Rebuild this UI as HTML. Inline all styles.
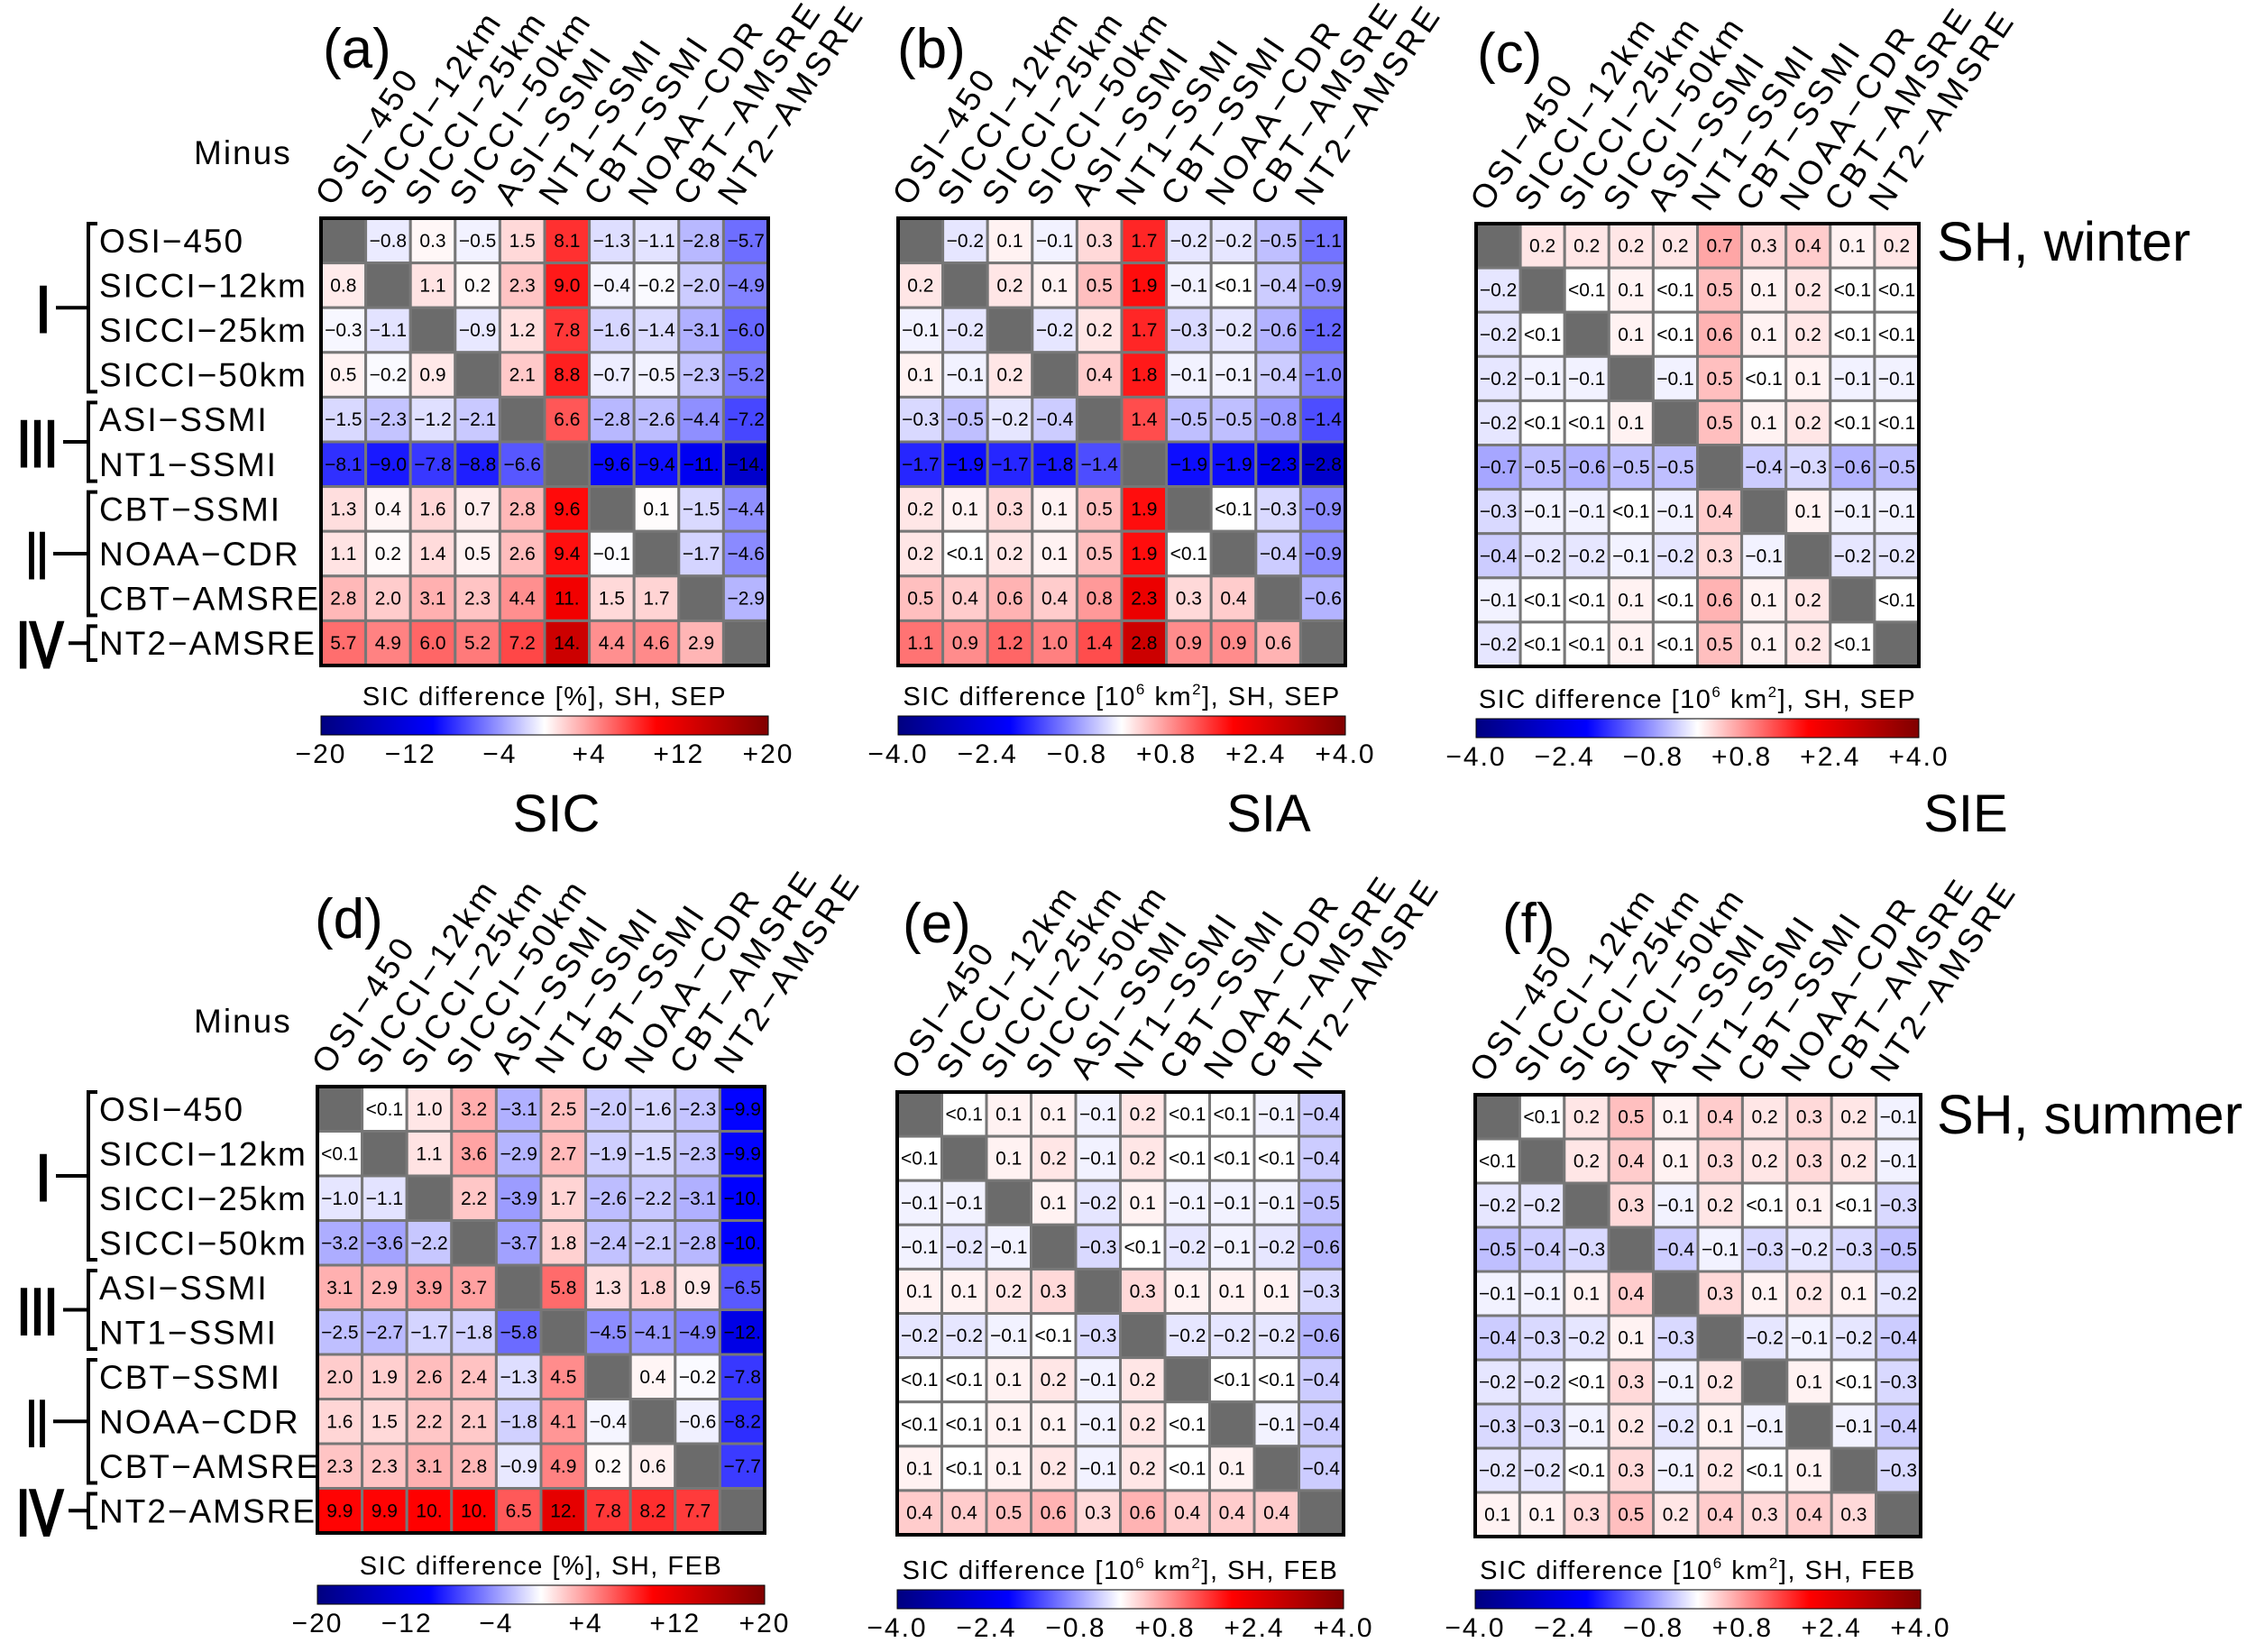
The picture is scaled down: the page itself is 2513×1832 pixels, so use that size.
<!DOCTYPE html>
<html><head><meta charset="utf-8"><style>
html,body{margin:0;padding:0;background:#fff}
svg{display:block}
text{font-family:"Liberation Sans",sans-serif}
</style></head><body>
<svg id="fig" xmlns="http://www.w3.org/2000/svg" width="2513" height="1832" viewBox="0 0 2513 1832">
<defs>
<linearGradient id="cmap" x1="0" x2="1" y1="0" y2="0">
<stop offset="0" stop-color="#000080"/><stop offset="0.25" stop-color="#0000ff"/><stop offset="0.5" stop-color="#ffffff"/><stop offset="0.75" stop-color="#ff0000"/><stop offset="1" stop-color="#800000"/>
</linearGradient>
</defs>
</svg>
<script>
const products = ["OSI-450","SICCI-12km","SICCI-25km","SICCI-50km","ASI-SSMI","NT1-SSMI","CBT-SSMI","NOAA-CDR","CBT-AMSRE","NT2-AMSRE"];
const sicTicks = ["-20","-12","-4","+4","+12","+20"];
const siaTicks = ["-4.0","-2.4","-0.8","+0.8","+2.4","+4.0"];
const valuesA = [
["X","-0.8","0.3","-0.5","1.5","8.1","-1.3","-1.1","-2.8","-5.7"],
["0.8","X","1.1","0.2","2.3","9.0","-0.4","-0.2","-2.0","-4.9"],
["-0.3","-1.1","X","-0.9","1.2","7.8","-1.6","-1.4","-3.1","-6.0"],
["0.5","-0.2","0.9","X","2.1","8.8","-0.7","-0.5","-2.3","-5.2"],
["-1.5","-2.3","-1.2","-2.1","X","6.6","-2.8","-2.6","-4.4","-7.2"],
["-8.1","-9.0","-7.8","-8.8","-6.6","X","-9.6","-9.4","-11.","-14."],
["1.3","0.4","1.6","0.7","2.8","9.6","X","0.1","-1.5","-4.4"],
["1.1","0.2","1.4","0.5","2.6","9.4","-0.1","X","-1.7","-4.6"],
["2.8","2.0","3.1","2.3","4.4","11.","1.5","1.7","X","-2.9"],
["5.7","4.9","6.0","5.2","7.2","14.","4.4","4.6","2.9","X"]];
const valuesB = [
["X","-0.2","0.1","-0.1","0.3","1.7","-0.2","-0.2","-0.5","-1.1"],
["0.2","X","0.2","0.1","0.5","1.9","-0.1","<0.1","-0.4","-0.9"],
["-0.1","-0.2","X","-0.2","0.2","1.7","-0.3","-0.2","-0.6","-1.2"],
["0.1","-0.1","0.2","X","0.4","1.8","-0.1","-0.1","-0.4","-1.0"],
["-0.3","-0.5","-0.2","-0.4","X","1.4","-0.5","-0.5","-0.8","-1.4"],
["-1.7","-1.9","-1.7","-1.8","-1.4","X","-1.9","-1.9","-2.3","-2.8"],
["0.2","0.1","0.3","0.1","0.5","1.9","X","<0.1","-0.3","-0.9"],
["0.2","<0.1","0.2","0.1","0.5","1.9","<0.1","X","-0.4","-0.9"],
["0.5","0.4","0.6","0.4","0.8","2.3","0.3","0.4","X","-0.6"],
["1.1","0.9","1.2","1.0","1.4","2.8","0.9","0.9","0.6","X"]];
const valuesC = [
["X","0.2","0.2","0.2","0.2","0.7","0.3","0.4","0.1","0.2"],
["-0.2","X","<0.1","0.1","<0.1","0.5","0.1","0.2","<0.1","<0.1"],
["-0.2","<0.1","X","0.1","<0.1","0.6","0.1","0.2","<0.1","<0.1"],
["-0.2","-0.1","-0.1","X","-0.1","0.5","<0.1","0.1","-0.1","-0.1"],
["-0.2","<0.1","<0.1","0.1","X","0.5","0.1","0.2","<0.1","<0.1"],
["-0.7","-0.5","-0.6","-0.5","-0.5","X","-0.4","-0.3","-0.6","-0.5"],
["-0.3","-0.1","-0.1","<0.1","-0.1","0.4","X","0.1","-0.1","-0.1"],
["-0.4","-0.2","-0.2","-0.1","-0.2","0.3","-0.1","X","-0.2","-0.2"],
["-0.1","<0.1","<0.1","0.1","<0.1","0.6","0.1","0.2","X","<0.1"],
["-0.2","<0.1","<0.1","0.1","<0.1","0.5","0.1","0.2","<0.1","X"]];
const valuesD = [
["X","<0.1","1.0","3.2","-3.1","2.5","-2.0","-1.6","-2.3","-9.9"],
["<0.1","X","1.1","3.6","-2.9","2.7","-1.9","-1.5","-2.3","-9.9"],
["-1.0","-1.1","X","2.2","-3.9","1.7","-2.6","-2.2","-3.1","-10."],
["-3.2","-3.6","-2.2","X","-3.7","1.8","-2.4","-2.1","-2.8","-10."],
["3.1","2.9","3.9","3.7","X","5.8","1.3","1.8","0.9","-6.5"],
["-2.5","-2.7","-1.7","-1.8","-5.8","X","-4.5","-4.1","-4.9","-12."],
["2.0","1.9","2.6","2.4","-1.3","4.5","X","0.4","-0.2","-7.8"],
["1.6","1.5","2.2","2.1","-1.8","4.1","-0.4","X","-0.6","-8.2"],
["2.3","2.3","3.1","2.8","-0.9","4.9","0.2","0.6","X","-7.7"],
["9.9","9.9","10.","10.","6.5","12.","7.8","8.2","7.7","X"]];
const valuesE = [
["X","<0.1","0.1","0.1","-0.1","0.2","<0.1","<0.1","-0.1","-0.4"],
["<0.1","X","0.1","0.2","-0.1","0.2","<0.1","<0.1","<0.1","-0.4"],
["-0.1","-0.1","X","0.1","-0.2","0.1","-0.1","-0.1","-0.1","-0.5"],
["-0.1","-0.2","-0.1","X","-0.3","<0.1","-0.2","-0.1","-0.2","-0.6"],
["0.1","0.1","0.2","0.3","X","0.3","0.1","0.1","0.1","-0.3"],
["-0.2","-0.2","-0.1","<0.1","-0.3","X","-0.2","-0.2","-0.2","-0.6"],
["<0.1","<0.1","0.1","0.2","-0.1","0.2","X","<0.1","<0.1","-0.4"],
["<0.1","<0.1","0.1","0.1","-0.1","0.2","<0.1","X","-0.1","-0.4"],
["0.1","<0.1","0.1","0.2","-0.1","0.2","<0.1","0.1","X","-0.4"],
["0.4","0.4","0.5","0.6","0.3","0.6","0.4","0.4","0.4","X"]];
const valuesF = [
["X","<0.1","0.2","0.5","0.1","0.4","0.2","0.3","0.2","-0.1"],
["<0.1","X","0.2","0.4","0.1","0.3","0.2","0.3","0.2","-0.1"],
["-0.2","-0.2","X","0.3","-0.1","0.2","<0.1","0.1","<0.1","-0.3"],
["-0.5","-0.4","-0.3","X","-0.4","-0.1","-0.3","-0.2","-0.3","-0.5"],
["-0.1","-0.1","0.1","0.4","X","0.3","0.1","0.2","0.1","-0.2"],
["-0.4","-0.3","-0.2","0.1","-0.3","X","-0.2","-0.1","-0.2","-0.4"],
["-0.2","-0.2","<0.1","0.3","-0.1","0.2","X","0.1","<0.1","-0.3"],
["-0.3","-0.3","-0.1","0.2","-0.2","0.1","-0.1","X","-0.1","-0.4"],
["-0.2","-0.2","<0.1","0.3","-0.1","0.2","<0.1","0.1","X","-0.3"],
["0.1","0.1","0.3","0.5","0.2","0.4","0.3","0.4","0.3","X"]];

const NS="http://www.w3.org/2000/svg";
const svg=document.getElementById('fig');
function mk(tag,attrs,parent){const e=document.createElementNS(NS,tag);for(const k in attrs)e.setAttribute(k,attrs[k]);(parent||svg).appendChild(e);return e;}
function txt(s,attrs,parent){const e=mk('text',attrs,parent);e.textContent=s;return e;}
function fmt(s){return s.replace(/-/g,'\u2212');}
function color(v,range){
  let t=Math.max(-1,Math.min(1,v/range));
  let r,g,b;
  if(t>=0){ if(t<=0.5){const f=t/0.5;r=255;g=b=Math.round(255*(1-f));} else {const f=(t-0.5)/0.5;r=Math.round(255-127*f);g=b=0;} }
  else { t=-t; if(t<=0.5){const f=t/0.5;b=255;r=g=Math.round(255*(1-f));} else {const f=(t-0.5)/0.5;b=Math.round(255-127*f);r=g=0;} }
  return `rgb(${r},${g},${b})`;
}
function num(s){if(s.startsWith('<'))return 0;return parseFloat(s);}

const panels=[
 {id:'a',vals:valuesA,x:356,y:242,w:496,h:496,range:20,ticks:sicTicks,unit:'[%]',mon:'SEP',rowLab:true,cbY:794,title:'(a)',tx:358,ty:75},
 {id:'b',vals:valuesB,x:996,y:242,w:496,h:496,range:4,ticks:siaTicks,unit:'km',mon:'SEP',rowLab:false,cbY:794,title:'(b)',tx:995,ty:75},
 {id:'c',vals:valuesC,x:1637,y:248,w:491,h:491,range:4,ticks:siaTicks,unit:'km',mon:'SEP',rowLab:false,cbY:797,title:'(c)',tx:1638,ty:80},
 {id:'d',vals:valuesD,x:352,y:1205,w:496,h:495,range:20,ticks:sicTicks,unit:'[%]',mon:'FEB',rowLab:true,cbY:1758,title:'(d)',tx:349,ty:1040},
 {id:'e',vals:valuesE,x:995,y:1211,w:495,h:491,range:4,ticks:siaTicks,unit:'km',mon:'FEB',rowLab:false,cbY:1763,title:'(e)',tx:1001,ty:1045},
 {id:'f',vals:valuesF,x:1636,y:1214,w:494,h:490,range:4,ticks:siaTicks,unit:'km',mon:'FEB',rowLab:false,cbY:1763,title:'(f)',tx:1666,ty:1045}
];

const numeralPos={'I':[40,16],'III':[19,45],'II':[29,24],'IV':[18,52]};

panels.forEach(p=>{
  const g=mk('g',{});
  
  
  const n=products.length, cw=p.w/n, ch=p.h/n;
  const xs=i=>p.x+i*cw, ys=j=>p.y+j*ch;
  const t=txt(p.title,{x:p.tx,y:p.ty,'font-size':62},g);
  
  
  p.vals.forEach((row,j)=>row.forEach((s,i)=>{
    const isDiag=s==='X';
    const r=mk('rect',{x:xs(i),y:ys(j),width:cw,height:ch,fill:isDiag?'#6b6b6b':color(num(s),p.range),stroke:'#777','stroke-width':3},g);
    
    
    if(!isDiag){
      const v=txt(fmt(s),{x:xs(i)+cw/2,y:ys(j)+ch/2+7,'font-size':21,'text-anchor':'middle'},g);
      
      
    }
  }));
  const b=mk('rect',{x:p.x,y:p.y,width:p.w,height:p.h,fill:'none',stroke:'#000','stroke-width':4},g);
  
  
  products.forEach((name,i)=>{
    const cx=xs(i)+cw/2-12, cy=p.y-12;
    const c=txt(fmt(name),{x:cx,y:cy,'font-size':37,'letter-spacing':'4',transform:`rotate(-56 ${cx} ${cy})`},g);
    
    
    if(p.rowLab){
      const rl=txt(fmt(name),{x:110,y:ys(i)+ch/2+13,'font-size':37,'letter-spacing':'2'},g);
      
      
    }
  });
  if(p.rowLab){
    const m=txt('Minus',{x:215,y:p.y-60,'font-size':37,'letter-spacing':'2'},g);
    
    
    const groups=[['I',0,3],['III',4,5],['II',6,8],['IV',9,9]];
    groups.forEach(gr=>{
      const y0=ys(gr[1])+6,y1=ys(gr[2]+1)-6,ym=(y0+y1)/2;
      const np=numeralPos[gr[0]];
      const br=mk('path',{d:`M108 ${y0} H98 V${y1} H108 M98 ${ym} H${np[0]+np[1]+6}`,fill:'none',stroke:'#000','stroke-width':4},g);
      
      
      const rn=txt(gr[0],{x:np[0],y:ym+27,'font-size':72,textLength:np[1],lengthAdjust:'spacingAndGlyphs',stroke:'#000','stroke-width':3},g);
      
      
    });
  }
  const cb=mk('rect',{x:p.x,y:p.cbY,width:p.w,height:21,fill:'url(#cmap)',stroke:'#000','stroke-width':1},g);
  
  
  const lab=txt('',{x:p.x+p.w/2,y:p.cbY-12,'font-size':29,'text-anchor':'middle','letter-spacing':'1.5'},g);
  if(p.unit==='[%]'){lab.textContent='SIC  difference  [%],  SH,  '+p.mon;}
  else{
    lab.appendChild(document.createTextNode('SIC  difference  [10'));
    const s1=document.createElementNS(NS,'tspan');s1.setAttribute('font-size','17');s1.setAttribute('dy','-12');s1.textContent='6';lab.appendChild(s1);
    const s2=document.createElementNS(NS,'tspan');s2.setAttribute('dy','12');s2.textContent=' km';lab.appendChild(s2);
    const s3=document.createElementNS(NS,'tspan');s3.setAttribute('font-size','17');s3.setAttribute('dy','-12');s3.textContent='2';lab.appendChild(s3);
    const s4=document.createElementNS(NS,'tspan');s4.setAttribute('dy','12');s4.textContent='],  SH,  '+p.mon;lab.appendChild(s4);
  }
  
  
  p.ticks.forEach((tk,k)=>{
    const tx=p.x+k*p.w/(p.ticks.length-1);
    const tl=txt(fmt(tk),{x:tx,y:p.cbY+52,'font-size':30,'text-anchor':'middle','letter-spacing':'2'},g);
    
    
  });
});
[['SIC',617],['SIA',1407],['SIE',2180]].forEach(a=>{
  const e=txt(a[0],{x:a[1],y:922,'font-size':58,'text-anchor':'middle'});
  
  
});
const w1=txt('SH, winter',{x:2148,y:289,'font-size':61});


const w2=txt('SH, summer',{x:2148,y:1257,'font-size':61});


</script>
</body></html>
